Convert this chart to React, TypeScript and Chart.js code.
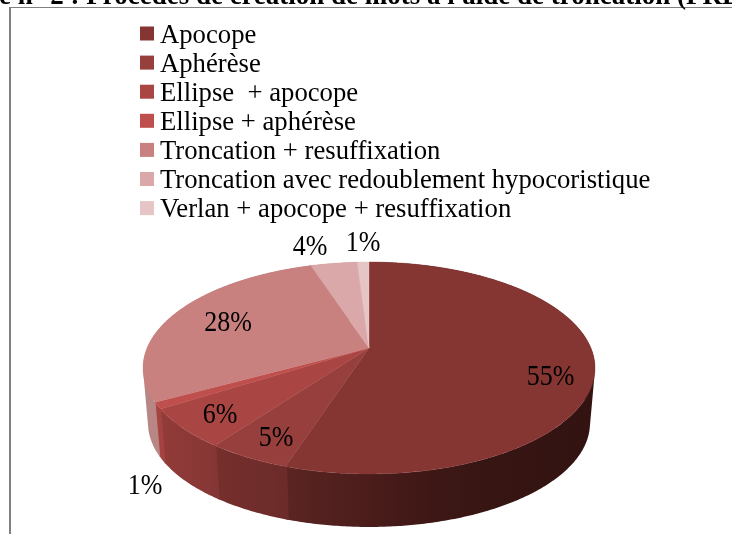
import React, { useEffect, useRef } from "react";
import { Chart, registerables } from "chart.js";

Chart.register(...registerables);

const categories = [
  "Apocope",
  "Aphérèse",
  "Ellipse  + apocope",
  "Ellipse + aphérèse",
  "Troncation + resuffixation",
  "Troncation avec redoublement hypocoristique",
  "Verlan + apocope + resuffixation",
];
const shares = [55, 5, 6, 1, 28, 4, 1];
const topColors = ["#853633", "#963f3d", "#a94644", "#bf4f4c", "#c98180", "#dba8a9", "#e5c5c6"];
const wallDark = ["#331311", "#6b2b29", "#843634", "#a04240", "#ad7675", "#bb8f90", "#c4a8a8"];
const wallLight = ["#5c2523", "#762f2d", "#933b39", "#a84543", "#b98785", "#bb8f90", "#c4a8a8"];
const titleLead = "Figure n° 2 : Procédés de création de mots à l'aide de troncation ";
const titleTail = "(PRELEX)";
const labelAnchors = [
  [550.5, 377.5],
  [276, 438],
  [220, 415.5],
  [145, 486.5],
  [228, 323],
  [310, 247.5],
  [363, 243],
];

const SERIF = '"Liberation Serif", "Times New Roman", serif';
const K = 0.1887;
const topPlane = { cx: 369, cy: 348, a: 221.9, b: 102.2 };
const basePlane = { cx: 369, cy: 403.7, a: 217, b: 100 };
const WALL_OVERLAP = 0.006;
const LABEL_STRETCH = 1.1;

function project(p: typeof topPlane, angle: number) {
  const u = Math.cos(angle);
  const v = Math.sin(angle);
  const w = 1 - K * v;
  return [p.cx + (p.a * u) / w, p.cy + (p.b * v) / w];
}

function arcPoints(p: typeof topPlane, start: number, end: number) {
  const steps = Math.max(2, Math.ceil((end - start) / 0.01));
  const pts: number[][] = [];
  for (let i = 0; i <= steps; i++) pts.push(project(p, start + ((end - start) * i) / steps));
  return pts;
}

const pie3d = {
  id: "pie3d",
  beforeDatasetsDraw(chart: any) {
    const ctx: CanvasRenderingContext2D = chart.ctx;
    const arcs = chart.getDatasetMeta(0).data;
    ctx.save();
    ctx.lineJoin = "round";

    // walls: one path of same-oriented strips between the two rims, filled once
    arcs.forEach((arc: any, i: number) => {
      const from = arc.startAngle - WALL_OVERLAP;
      const to = arc.endAngle + WALL_OVERLAP;
      const upper = arcPoints(topPlane, from, to);
      const lower = arcPoints(basePlane, from, to);
      const xs = upper.concat(lower).map((q) => q[0]);
      const x0 = Math.min(...xs);
      const x1 = Math.max(...xs);
      const g = ctx.createLinearGradient(x0, 0, x1, 0);
      if (i === 0) {
        g.addColorStop(0, wallLight[0]);
        g.addColorStop(0.35, "#451a18");
        g.addColorStop(0.65, "#361513");
        g.addColorStop(1, wallDark[0]);
      } else {
        g.addColorStop(0, wallLight[i]);
        g.addColorStop(1, wallDark[i]);
      }
      ctx.beginPath();
      for (let n = 0; n < upper.length - 1; n++) {
        const quad = [upper[n], upper[n + 1], lower[n + 1], lower[n]];
        let area = 0;
        quad.forEach((q, m) => {
          const r = quad[(m + 1) % 4];
          area += q[0] * r[1] - r[0] * q[1];
        });
        if (area < 0) quad.reverse();
        quad.forEach((q, m) => (m ? ctx.lineTo(q[0], q[1]) : ctx.moveTo(q[0], q[1])));
        ctx.closePath();
      }
      ctx.fillStyle = g;
      ctx.fill("nonzero");
    });

    // top face
    arcs.forEach((arc: any) => {
      const pts = arcPoints(topPlane, arc.startAngle, arc.endAngle);
      ctx.beginPath();
      ctx.moveTo(topPlane.cx, topPlane.cy);
      pts.forEach((q) => ctx.lineTo(q[0], q[1]));
      ctx.closePath();
      ctx.fillStyle = arc.options.backgroundColor;
      ctx.strokeStyle = arc.options.backgroundColor;
      ctx.lineWidth = 0.4;
      ctx.fill();
      ctx.stroke();
    });
    ctx.restore();
    return false;
  },
  afterDraw(chart: any) {
    const ctx: CanvasRenderingContext2D = chart.ctx;
    const ds = chart.data.datasets[0];
    ctx.save();

    // frame
    ctx.fillStyle = "#808080";
    ctx.fillRect(9, 7, 723, 1);
    ctx.fillRect(9, 7, 2, 527);

    // clipped title
    ctx.fillStyle = "#000";
    ctx.font = `bold 27px ${SERIF}`;
    ctx.textAlign = "left";
    ctx.textBaseline = "alphabetic";
    ctx.fillText(titleLead + titleTail, 677 - ctx.measureText(titleLead).width, 4);

    // legend
    ctx.font = `26.7px ${SERIF}`;
    chart.data.labels.forEach((label: string, i: number) => {
      const y = 33.5 + i * 29.1;
      ctx.fillStyle = ds.backgroundColor[i];
      ctx.fillRect(140, y - 7, 14, 14);
      ctx.fillStyle = "#000";
      ctx.fillText(label, 160, y + 9);
    });

    // percentages
    ctx.textAlign = "center";
    ctx.textBaseline = "middle";
    ctx.font = `26px ${SERIF}`;
    ds.data.forEach((v: number, i: number) => {
      ctx.save();
      ctx.translate(labelAnchors[i][0], labelAnchors[i][1]);
      ctx.scale(1, LABEL_STRETCH);
      ctx.fillText(`${v}%`, 0, 0);
      ctx.restore();
    });
    ctx.restore();
  },
};

export default function App() {
  const ref = useRef<HTMLCanvasElement>(null);
  useEffect(() => {
    const chart = new Chart(ref.current!, {
      type: "pie",
      data: {
        labels: categories,
        datasets: [{ data: shares, backgroundColor: topColors }],
      },
      options: {
        responsive: false,
        animation: false,
        plugins: { legend: { display: false }, tooltip: { enabled: false } },
      },
      plugins: [pie3d],
    } as any);
    return () => chart.destroy();
  }, []);
  return (
    <canvas
      ref={ref}
      width={732}
      height={534}
      style={{ position: "absolute", left: 0, top: 0, display: "block" }}
    />
  );
}
